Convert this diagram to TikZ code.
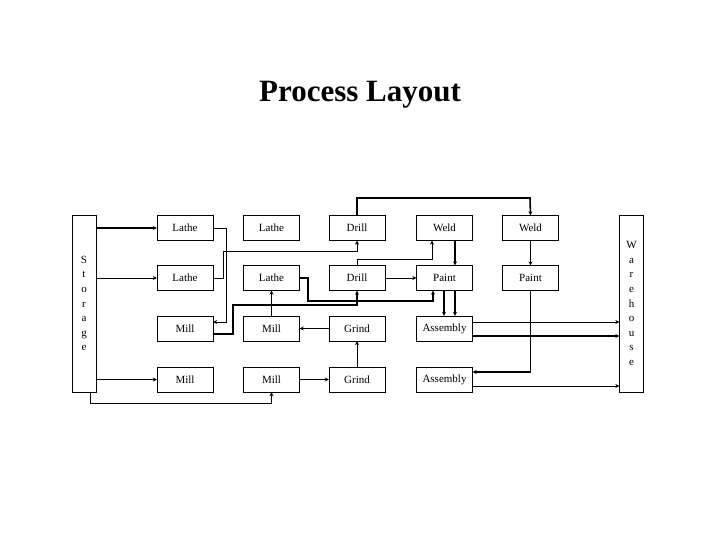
\documentclass[tikz,border=0pt]{standalone}
\usepackage{fontspec}
\setmainfont{Liberation Serif}
\usetikzlibrary{arrows.meta, positioning}

\begin{document}
\begin{tikzpicture}[x=1pt, y=-1pt,
  dept/.style={draw, minimum width=56pt, minimum height=25pt, inner sep=0pt, font=\fontsize{11}{11}\selectfont},
  side/.style={draw, minimum width=24pt, minimum height=177pt, inner sep=0pt, align=center, font=\fontsize{11}{14.6}\selectfont},
  thin flow/.style={line width=0.6pt, -{Stealth[length=4pt,width=4pt]}},
  thick flow/.style={line width=1.6pt, -{Stealth[length=4pt,width=4pt]}}]

\useasboundingbox (0,0) rectangle (720,540);
\node (T) at (360,95) {\fontsize{31}{31}\selectfont\bfseries Process Layout};

\node (S) [side] at (84,303.5) {S\\t\\o\\r\\a\\g\\e};
\node (W) [side] at (631.5,303.5) {W\\a\\r\\e\\h\\o\\u\\s\\e};

\node (L1) [dept] at (185,228) {Lathe};
\node (L2) [dept] at (271.5,228) {Lathe};
\node (D1) [dept] at (357,228) {Drill};
\node (W1) [dept] at (444.5,228) {Weld};
\node (W2) [dept] at (530.5,228) {Weld};
\node (L3) [dept] at (185,278) {Lathe};
\node (L4) [dept] at (271.5,278) {Lathe};
\node (D2) [dept] at (357,278) {Drill};
\node (P1) [dept] at (444.5,278) {Paint};
\node (P2) [dept] at (530.5,278) {Paint};
\node (M1) [dept] at (185,328.5) {Mill};
\node (M2) [dept] at (271.5,328.5) {Mill};
\node (G1) [dept] at (357,328.5) {Grind};
\node (A1) [dept] at (444.5,328.5) {Assembly};
\node (M3) [dept] at (185,379.5) {Mill};
\node (M4) [dept] at (271.5,379.5) {Mill};
\node (G2) [dept] at (357,379.5) {Grind};
\node (A2) [dept] at (444.5,379.5) {Assembly};

% from storage
\draw [thick flow] (S.east |- L1) -- (L1);
\draw [thin flow] (S.east |- L3) -- (L3);
\draw [thick flow] (S.east |- M3) -- (M3);
\draw [line width=1pt, -{Stealth[length=4pt,width=4pt]}] (90,392) -- (90,403) -| (M4.south);

% lathes and mills
\draw [thin flow] (L1.east) -- (226,228) -- (226,322) -- (M1.east |- 0,322);
\draw [thin flow] (L3.east) -- (223,278) -- (223,251) -| (D1.south);
\draw [thick flow] (M1.east |- 0,334) -- (233,334) -- (233,305) -| (D2.south);
\draw [thick flow] (L4.east) -- (308,278) -- (308,301) -| (P1.south -| 433,0);
\draw [thick flow] (M2) -- (L4);
\draw [thick flow] (G1) -- (M2);
\draw [thick flow] (M4) -- (G2);
\draw [thin flow] (G2) -- (G1);

% drills, welds, paint
\draw [thick flow] (D1.north) |- (530,198) -- (W2.north);
\draw [thin flow] (D2.north) |- (432,259) -- (W1.south -| 432,0);
\draw [thin flow] (D2) -- (P1);
\draw [thick flow] (W1.south -| 455,0) -- (P1.north -| 455,0);
\draw [thin flow] (W2) -- (P2);
\draw [thick flow] (P1.south -| 444,0) -- (A1.north -| 444,0);
\draw [thick flow] (P1.south -| 455,0) -- (A1.north -| 455,0);
\draw [line width=0.6pt] (P2.south) -- (530.5,372);
\draw [thick flow] (530.5,372) -- (A2.east |- 0,372);

% to warehouse
\draw [thin flow] (A1.east |- 0,322) -- (W.west |- 0,322);
\draw [thick flow] (A1.east |- 0,336) -- (W.west |- 0,336);
\draw [thin flow] (A2.east |- 0,386) -- (W.west |- 0,386);

\end{tikzpicture}
\end{document}
